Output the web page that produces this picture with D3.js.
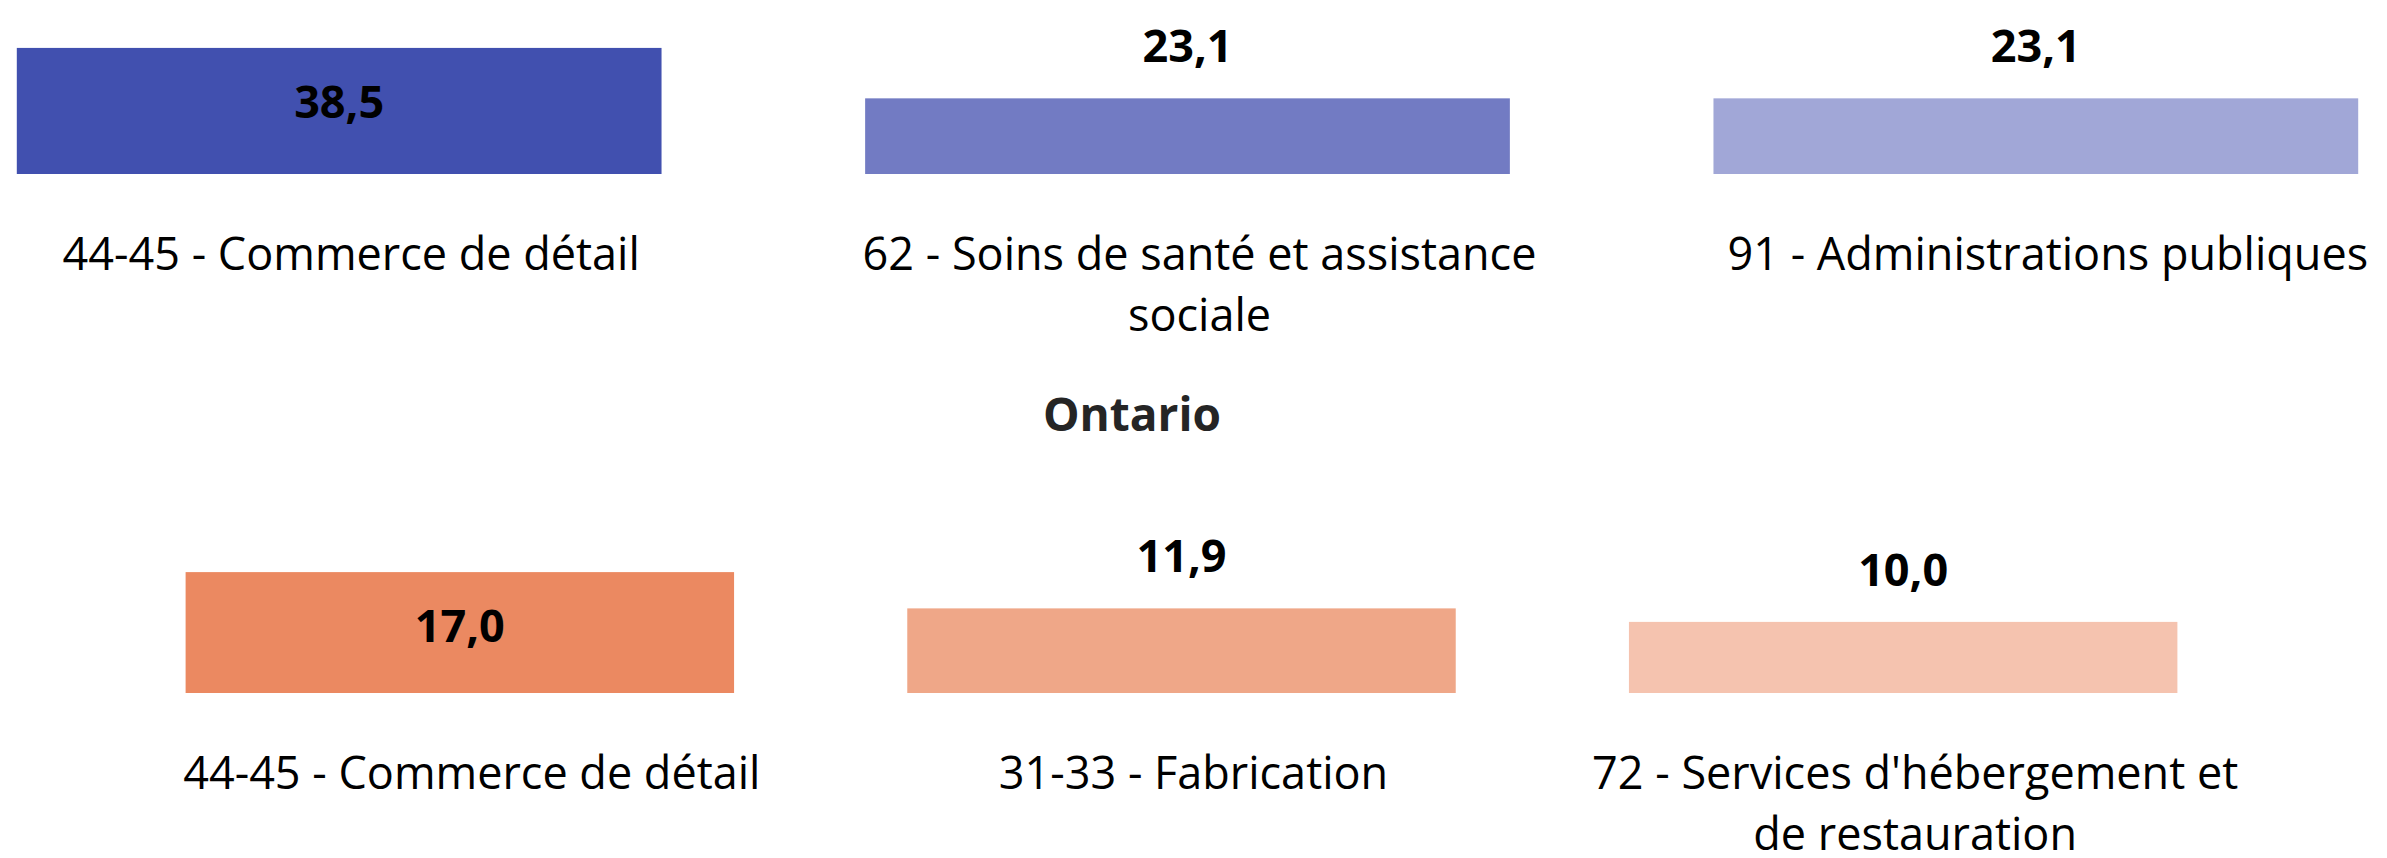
<!DOCTYPE html>
<html>
<head>
<meta charset="utf-8">
<script src="https://cdn.jsdelivr.net/npm/d3@7"></script>
<style>
  body { margin: 0; background: #fff; }
  text { font-family: "Open Sans", "Noto Sans", sans-serif; }
</style>
</head>
<body>
<div id="chart"></div>
<script>
// data
var topCategories = ["44-45 - Commerce de détail", "62 - Soins de santé et assistance sociale", "91 - Administrations publiques"];
var topValues = [38.5, 23.1, 23.1];

var ontarioTitle = "Ontario";
var ontarioCategories = ["44-45 - Commerce de détail", "31-33 - Fabrication", "72 - Services d'hébergement et de restauration"];
var ontarioValues = [17.0, 11.9, 10.0];

var topColors = ["#4150af", "#727bc3", "#a1a7d7"];
var ontarioColors = ["#eb8961", "#efa788", "#f5c3af"];

var svgWidth = 2387;
var svgHeight = 858;
var lineHeight = 61;

var svg = d3.select("#chart")
  .append("svg")
  .attr("width", svgWidth)
  .attr("height", svgHeight);

// french number format: 38,5
var frLocale = d3.formatLocale({ decimal: ",", thousands: " ", grouping: [3], currency: ["", " $"] });
var fmt = frLocale.format(".1f");

// split a label into lines no wider than width, then write them as tspans
function wrap(text, width, cx, baseY) {
  text.each(function(d) {
    var t = d3.select(this);
    var words = d.cat.split(/\s+/);
    var lines = [];
    var line = [];
    t.text("");
    words.forEach(function(w) {
      var test = line.concat([w]).join(" ");
      t.text(test);
      if (t.node().getComputedTextLength() > width && line.length > 0) {
        lines.push(line.join(" "));
        line = [w];
      } else {
        line.push(w);
      }
    });
    lines.push(line.join(" "));
    t.text(null);
    lines.forEach(function(l, i) {
      t.append("tspan")
        .attr("x", cx(d))
        .attr("y", baseY + i * lineHeight)
        .text(l);
    });
  });
}

function drawPanel(cats, vals, colors, xRange, yRange, yMax) {
  var data = cats.map(function(c, i) { return { cat: c, value: vals[i], color: colors[i] }; });

  var x = d3.scaleBand()
    .domain(cats)
    .range(xRange)
    .paddingInner(0.24)
    .paddingOuter(0.12);

  var y = d3.scaleLinear()
    .domain([0, yMax])
    .range(yRange);

  var g = svg.append("g");
  var maxVal = d3.max(vals);

  g.selectAll("rect")
    .data(data)
    .enter()
    .append("rect")
    .attr("x", d => x(d.cat))
    .attr("y", d => y(d.value))
    .attr("width", x.bandwidth())
    .attr("height", d => y(0) - y(d.value))
    .attr("fill", d => d.color);

  // biggest bar gets its label inside, others above
  g.selectAll("text.value")
    .data(data)
    .enter()
    .append("text")
    .attr("class", "value")
    .attr("x", d => x(d.cat) + x.bandwidth() / 2)
    .attr("y", d => d.value === maxVal ? y(d.value) + 70 : y(d.value) - 36)
    .attr("text-anchor", "middle")
    .attr("font-size", 45)
    .attr("font-weight", "bold")
    .attr("fill", "#000")
    .text(d => fmt(d.value));

  g.selectAll("text.cat")
    .data(data)
    .enter()
    .append("text")
    .attr("class", "cat")
    .attr("text-anchor", "middle")
    .attr("font-size", 45)
    .attr("fill", "#000")
    .call(wrap, x.step() * 0.94, d => x(d.cat) + x.bandwidth() / 2 + 12, y(0) + 96);

  return x;
}

// top panel (its title is cropped off the picture)
drawPanel(topCategories, topValues, topColors, [-85, 2460], [174, 43], 40);

// Ontario panel
drawPanel(ontarioCategories, ontarioValues, ontarioColors, [99, 2264], [693, 565], 18);

svg.append("text")
  .attr("x", 1132)
  .attr("y", 431)
  .attr("text-anchor", "middle")
  .attr("font-size", 46)
  .attr("font-weight", "bold")
  .attr("fill", "#252525")
  .text(ontarioTitle);
</script>
</body>
</html>
